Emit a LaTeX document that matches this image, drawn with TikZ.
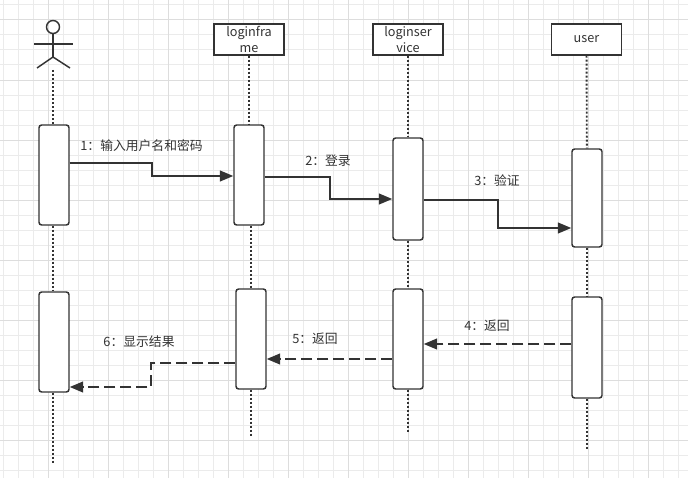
\documentclass[tikz,border=0pt]{standalone}
\usepackage{fontspec}
\setmainfont{Noto Sans CJK SC}
\usetikzlibrary{arrows.meta}
\definecolor{ink}{HTML}{333333}
\definecolor{gridminor}{HTML}{EBEBEB}
\definecolor{gridmajor}{HTML}{DDDDDD}
\tikzset{
	bar/.style={draw=ink, line width=1.1pt, fill=white, rounded corners=2pt, minimum width=22.5pt, inner sep=0pt},
	head/.style={draw=ink, line width=1.1pt, fill=white, minimum width=52.5pt, minimum height=23.25pt, inner sep=0pt, align=center, text=ink, font=\fontsize{9.5}{12}\selectfont},
	lifeline/.style={draw=ink, line width=1.4pt, dash pattern=on 1.4pt off 1.6pt},
	msg/.style={draw=ink, line width=1.5pt, -{Triangle[length=10pt, width=8pt]}},
	reply/.style={msg, dash pattern=on 8.5pt off 3.5pt},
	lbl/.style={text=ink, inner sep=0pt, font=\fontsize{9.6}{12}\selectfont},
}
\begin{document}
\begin{tikzpicture}[x=0.75pt, y=-0.75pt]
		%%%%% START %%%%%
		\useasboundingbox (0, 0) rectangle (688, 478);
		\fill[white] (0, 0) rectangle (688, 478);
		
		\foreach \x in {3,18,...,678} \draw[gridminor, line width=0.75pt] (\x, 0) -- (\x, 478);
		\foreach \y in {5,20,...,470} \draw[gridminor, line width=0.75pt] (0, \y) -- (688, \y);
		\foreach \x in {48,108,...,648} \draw[gridmajor, line width=0.75pt] (\x, 0) -- (\x, 478);
		\foreach \y in {20,80,...,440} \draw[gridmajor, line width=0.75pt] (0, \y) -- (688, \y);
		
		% actor
		\draw[ink, line width=1.1pt] (53, 27) circle (6.5);
		\draw[ink, line width=1.1pt] (34, 44) -- (73, 44);
		\draw[ink, line width=1.1pt] (53, 33.5) -- (53, 57);
		\draw[ink, line width=1.1pt] (37, 68) -- (53, 57) -- (70, 68);
		\coordinate (legs) at (53, 70);
		
		% heads
		\node[head] (hF) at (249, 39.5) {loginfra\\me};
		\node[head] (hS) at (408, 39.5) {loginser\\vice};
		\node[head] (hU) at (586.5, 39.5) {user};
		
		% bars
		\node[bar, minimum height=75pt] (bA1) at (54, 175) {};
		\node[bar, minimum height=75pt] (bA2) at (54, 342) {};
		\node[bar, minimum height=75pt] (bF1) at (249, 175) {};
		\node[bar, minimum height=75pt] (bF2) at (251, 339) {};
		\node[bar, minimum height=76.5pt] (bS1) at (408, 189) {};
		\node[bar, minimum height=75pt] (bS2) at (408, 339) {};
		\node[bar, minimum height=73.5pt] (bU1) at (587, 198) {};
		\node[bar, minimum height=75.75pt] (bU2) at (587, 347.5) {};
		
		\coordinate (eA) at (53, 463);
		\coordinate (eF) at (251, 437);
		\coordinate (eS) at (408, 432);
		\coordinate (eU) at (587, 450);
		
		% lifelines
		\draw[lifeline] (legs) -- (bA1.north -| legs);
		\draw[lifeline] (bA1.south -| legs) -- (bA2.north -| legs);
		\draw[lifeline] (bA2.south -| legs) -- (eA);
		\draw[lifeline] (hF) -- (bF1);
		\draw[lifeline] (bF2.north |- bF1.south) -- (bF2);
		\draw[lifeline] (bF2) -- (eF);
		\draw[lifeline] (hS) -- (bS1);
		\draw[lifeline] (bS1) -- (bS2);
		\draw[lifeline] (bS2) -- (eS);
		\draw[lifeline] (hU) -- (bU1);
		\draw[lifeline] (bU1) -- (bU2);
		\draw[lifeline] (bU2) -- (eU);
		
		% messages
		\draw[msg] (bA1.east |- 0,163) -- ++(82, 0) |- (bF1.west |- 0,176);
		\draw[msg] (bF1.east |- 0,177) -- ++(65, 0) |- (bS1.west |- 0,199);
		\draw[msg] (bS1.east |- 0,200) -- ++(74, 0) |- (bU1.west |- 0,228);
		\draw[reply] (bU2.west |- 0,344) -- (bS2.east |- 0,344);
		\draw[reply] (bS2.west |- 0,359) -- (bF2.east |- 0,359);
		\draw[reply] (bF2.west |- 0,363) -- ++(-84, 0) |- (bA2.east |- 0,387);
		
		\node[lbl] (l1) at (141.5, 146) {1：输入用户名和密码};
		\node[lbl] (l2) at (328, 161) {2：登录};
		\node[lbl] (l3) at (497, 181) {3：验证};
		\node[lbl] (l4) at (487, 326) {4：返回};
		\node[lbl] (l5) at (315, 339) {5：返回};
		\node[lbl] (l6) at (139, 342) {6：显示结果};
		
		%%%%% END %%%%%
	\end{tikzpicture}
\end{document}
